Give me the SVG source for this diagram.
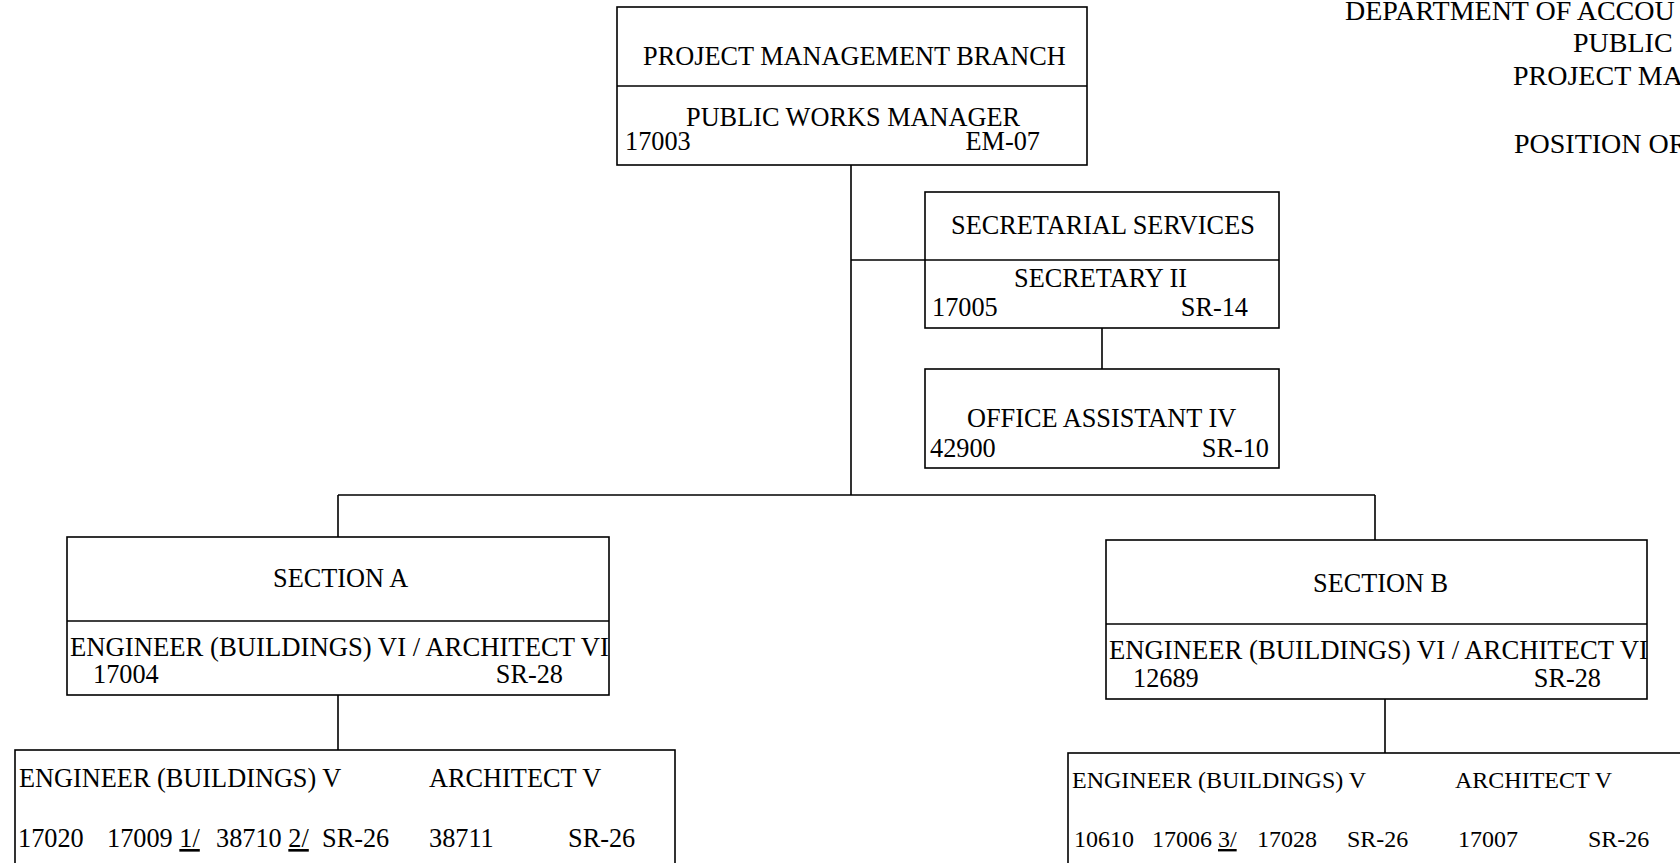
<svg xmlns="http://www.w3.org/2000/svg" width="1680" height="863" viewBox="0 0 1680 863">
<style>
.box{fill:#fff;stroke:#000;stroke-width:1.6}
.ln{fill:none;stroke:#000;stroke-width:1.6}
text{font-family:"Liberation Serif","Times New Roman",serif;font-size:26.3px;fill:#000}
.t{font-size:28px}
.big{font-size:26.7px}
.sm{font-size:24px}
.u{text-decoration:underline}
</style>
<rect width="1680" height="863" fill="#fff"/>
<g id="title">
<text class="t" x="1345" y="20">DEPARTMENT OF ACCOU</text>
<text class="t" x="1573" y="51.5">PUBLIC</text>
<text class="t" x="1513" y="85">PROJECT MA</text>
<text class="t" x="1514" y="153">POSITION OR</text>
</g>
<g id="connectors">
<path class="ln" d="M851 165V495M851 260H925M1102 328V369M338 495H1375M338 495V537M1375 495V540M338 695V750M1385 699V753"/>
</g>
<g id="branch">
<rect class="box" x="617" y="7" width="470" height="158"/>
<line class="ln" x1="617" y1="86" x2="1087" y2="86"/>
<text x="643" y="65">PROJECT MANAGEMENT BRANCH</text>
<text x="686" y="126">PUBLIC WORKS MANAGER</text>
<text x="625" y="150">17003</text>
<text x="1040" y="150" text-anchor="end">EM-07</text>
</g>
<g id="secretarial">
<rect class="box" x="925" y="192" width="354" height="136"/>
<line class="ln" x1="925" y1="260" x2="1279" y2="260"/>
<text x="951" y="234">SECRETARIAL SERVICES</text>
<text x="1014" y="287">SECRETARY II</text>
<text x="932" y="316">17005</text>
<text x="1248" y="316" text-anchor="end">SR-14</text>
</g>
<g id="office-assistant">
<rect class="box" x="925" y="369" width="354" height="99"/>
<text x="967" y="427">OFFICE ASSISTANT IV</text>
<text x="930" y="457">42900</text>
<text x="1269" y="457" text-anchor="end">SR-10</text>
</g>
<g id="section-a">
<rect class="box" x="67" y="537" width="542" height="158"/>
<line class="ln" x1="67" y1="621" x2="609" y2="621"/>
<text x="273" y="587">SECTION A</text>
<text class="big" x="70" y="656">ENGINEER (BUILDINGS) VI / ARCHITECT VI</text>
<text x="93" y="683">17004</text>
<text x="563" y="683" text-anchor="end">SR-28</text>
</g>
<g id="section-b">
<rect class="box" x="1106" y="540" width="541" height="159"/>
<line class="ln" x1="1106" y1="624" x2="1647" y2="624"/>
<text x="1313" y="592">SECTION B</text>
<text class="big" x="1109" y="659">ENGINEER (BUILDINGS) VI / ARCHITECT VI</text>
<text x="1133" y="687">12689</text>
<text x="1601" y="687" text-anchor="end">SR-28</text>
</g>
<g id="staff-a">
<rect class="box" x="15" y="750" width="660" height="130"/>
<text x="19" y="787">ENGINEER (BUILDINGS) V</text>
<text x="429" y="787">ARCHITECT V</text>
<text x="18" y="847">17020</text>
<text x="107" y="847">17009 <tspan class="u">1/</tspan></text>
<text x="216" y="847">38710 <tspan class="u">2/</tspan></text>
<text x="322" y="847">SR-26</text>
<text x="429" y="847">38711</text>
<text x="568" y="847">SR-26</text>
</g>
<g id="staff-b">
<rect class="box" x="1068" y="753" width="660" height="130"/>
<text class="sm" x="1072" y="788">ENGINEER (BUILDINGS) V</text>
<text class="sm" x="1455" y="788">ARCHITECT V</text>
<text class="sm" x="1074" y="847">10610</text>
<text class="sm" x="1152" y="847">17006 <tspan class="u">3/</tspan></text>
<text class="sm" x="1257" y="847">17028</text>
<text class="sm" x="1347" y="847">SR-26</text>
<text class="sm" x="1458" y="847">17007</text>
<text class="sm" x="1588" y="847">SR-26</text>
</g>
</svg>
